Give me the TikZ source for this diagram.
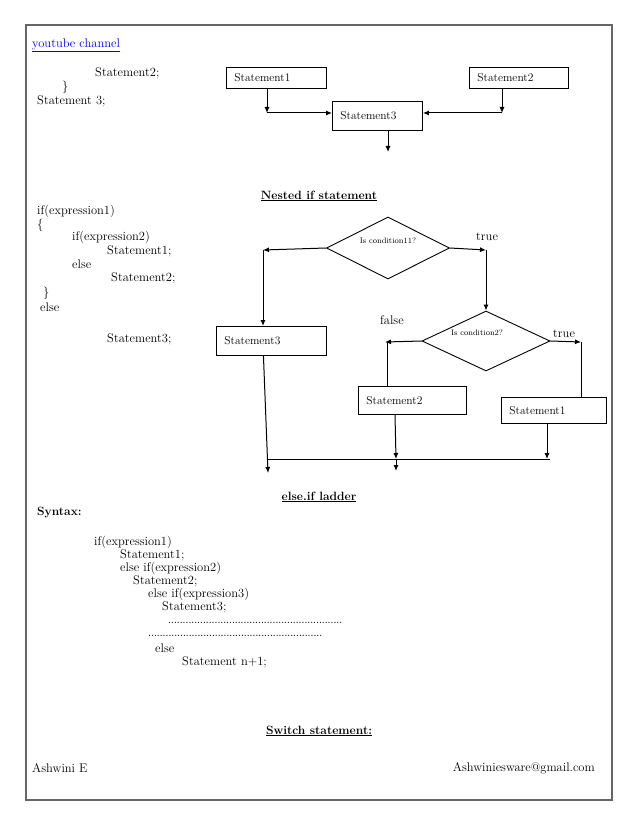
\documentclass[tikz,border=0pt]{standalone}
\usepackage{fontspec}
\usepackage{xcolor}
\usetikzlibrary{arrows.meta,shapes.geometric}

\newcommand{\dotrow}[1]{\makebox[#1][l]{\strut\leaders\hbox to 2.9pt{\hss.\hss}\hfill}}

\tikzset{
    txt/.style={anchor=west, inner sep=0pt, font=\fontsize{12.5}{15}\selectfont},
    heading/.style={anchor=center, inner sep=0pt, font=\fontsize{12}{14}\selectfont\bfseries},
    stmtbox/.style={draw, line width=0.9pt, anchor=north west, inner xsep=8pt, inner ysep=0pt,
        align=left, font=\fontsize{11.5}{13}\selectfont},
    cond/.style={draw, diamond, line width=0.9pt, inner sep=0pt},
    condtxt/.style={font=\fontsize{8}{9}\selectfont},
    arr/.style={line width=1pt, -{Latex[length=6pt,width=5pt]}},
    ln/.style={line width=1pt}
}

\begin{document}
\begin{tikzpicture}[x=1pt, y=-1pt]
    % page
    \useasboundingbox (0,0) rectangle (638,826);
    \draw[line width=2pt, black!60] (25.5,25.5) rectangle (612,800);

    % link
    \node[txt, text=blue] (link) at (32,45) {\underline{youtube channel}};

    % top code lines
    \foreach \x/\y/\t [count=\i] in {95/73/Statement2;, 62/87/\}, 37/101/Statement 3;}
        \node[txt] (top\i) at (\x,\y) {\t};

    % top flow
    \node[stmtbox, text width=84pt, minimum height=21pt] (s1) at (226,67) {Statement1};
    \node[stmtbox, text width=83pt, minimum height=21pt] (s2) at (469,67) {Statement2};
    \node[stmtbox, text width=74pt, minimum height=29pt] (s3) at (332,101) {Statement3\\[7pt]};
    \coordinate (c1) at (267,113);
    \coordinate (c2) at (502,113);
    \coordinate (o3) at (388,152);
    \draw[arr] (c1 |- s1.south) -- (c1);
    \draw[arr] (c1) -- (s3.west |- c1);
    \draw[arr] (c2 |- s2.south) -- (c2);
    \draw[arr] (c2) -- (s3.east |- c2);
    \draw[arr] (o3 |- s3.south) -- (o3);

    % nested if
    \node[heading] (nest) at (319,196) {\underline{Nested if statement}};
    \foreach \x/\y/\t [count=\i] in {37/211/if(expression1), 37/225/\{, 72/237/if(expression2),
        107/251/Statement1;, 72/264/else, 111/278/Statement2;, 43/293/\}, 40/307/else, 107/339/Statement3;}
        \node[txt] (nc\i) at (\x,\y) {\t};

    \node[cond, minimum width=123pt, minimum height=62pt,
        label={[condtxt, yshift=7pt]center:Is condition11?}] (d1) at (388,248) {};
    \node[txt] (t1) at (476,237) {true};
    \node[stmtbox, text width=94pt, minimum height=29pt] (n3) at (216,326) {Statement3\\[7pt]};
    \node[cond, minimum width=128pt, minimum height=60pt,
        label={[condtxt, yshift=8pt, xshift=-9pt]center:Is condition2?}] (d2) at (486,341) {};
    \node[txt] (f2) at (380,320) {false};
    \node[txt] (t2) at (553,334) {true};
    \node[stmtbox, text width=92pt, minimum height=28pt] (n2) at (358,386) {Statement2\\[6pt]};
    \node[stmtbox, text width=89pt, minimum height=26pt] (n1) at (501,397) {Statement1\\[2pt]};

    \coordinate (l1) at (263,250);
    \coordinate (r1) at (486,250);
    \coordinate (l2) at (385,342);
    \coordinate (r2) at (581,342);
    \coordinate (j1) at (268,473);
    \coordinate (m1) at (268,459);
    \coordinate (m2) at (396,459);
    \coordinate (o2) at (396,471);
    \coordinate (m3) at (547,459);
    \coordinate (e3) at (550,459);

    \draw[arr] (d1.west) -- (l1);
    \draw[arr] (l1) -- (l1 |- n3.north);
    \draw[arr] (d1.east) -- (r1);
    \draw[arr] (r1) -- (d2.north);
    \draw[arr] (d2.west) -- (l2);
    \draw[ln] ([xshift=2pt]l2) -- ([xshift=2pt]l2 |- n2.north);
    \draw[arr] (d2.east) -- (r2);
    \draw[ln] (r2) -- (r2 |- n1.north);
    \draw[arr] ([xshift=-8pt]n3.south) -- (j1);
    \draw[ln] (m1) -- (e3);
    \draw[arr] ([xshift=-1pt]m2 |- n2.south) -- (m2);
    \draw[arr] (m2) -- (o2);
    \draw[arr] (m3 |- n1.south) -- (m3);

    % else if ladder
    \node[heading] (ladder) at (319,497) {\underline{else.if ladder}};
    \node[heading, anchor=west] (syn) at (37,513) {Syntax:};
    \foreach \x/\y/\t [count=\i] in {94/542/if(expression1), 120/555/Statement1;, 120/568/else if(expression2),
        133/581/Statement2;, 148/594/else if(expression3), 162/607/Statement3;,
        168/620/\dotrow{175pt}, 148/633/\dotrow{174pt}, 155/648/else, 182/662/Statement n+1;}
        \node[txt] (lc\i) at (\x,\y) {\t};

    % switch
    \node[heading] (sw) at (319,731) {\underline{Switch statement:}};

    % footer
    \node[txt] (auth) at (32,768) {Ashwini E};
    \node[txt, anchor=east] (mail) at (595,768) {Ashwiniesware@gmail.com};
\end{tikzpicture}
\end{document}
